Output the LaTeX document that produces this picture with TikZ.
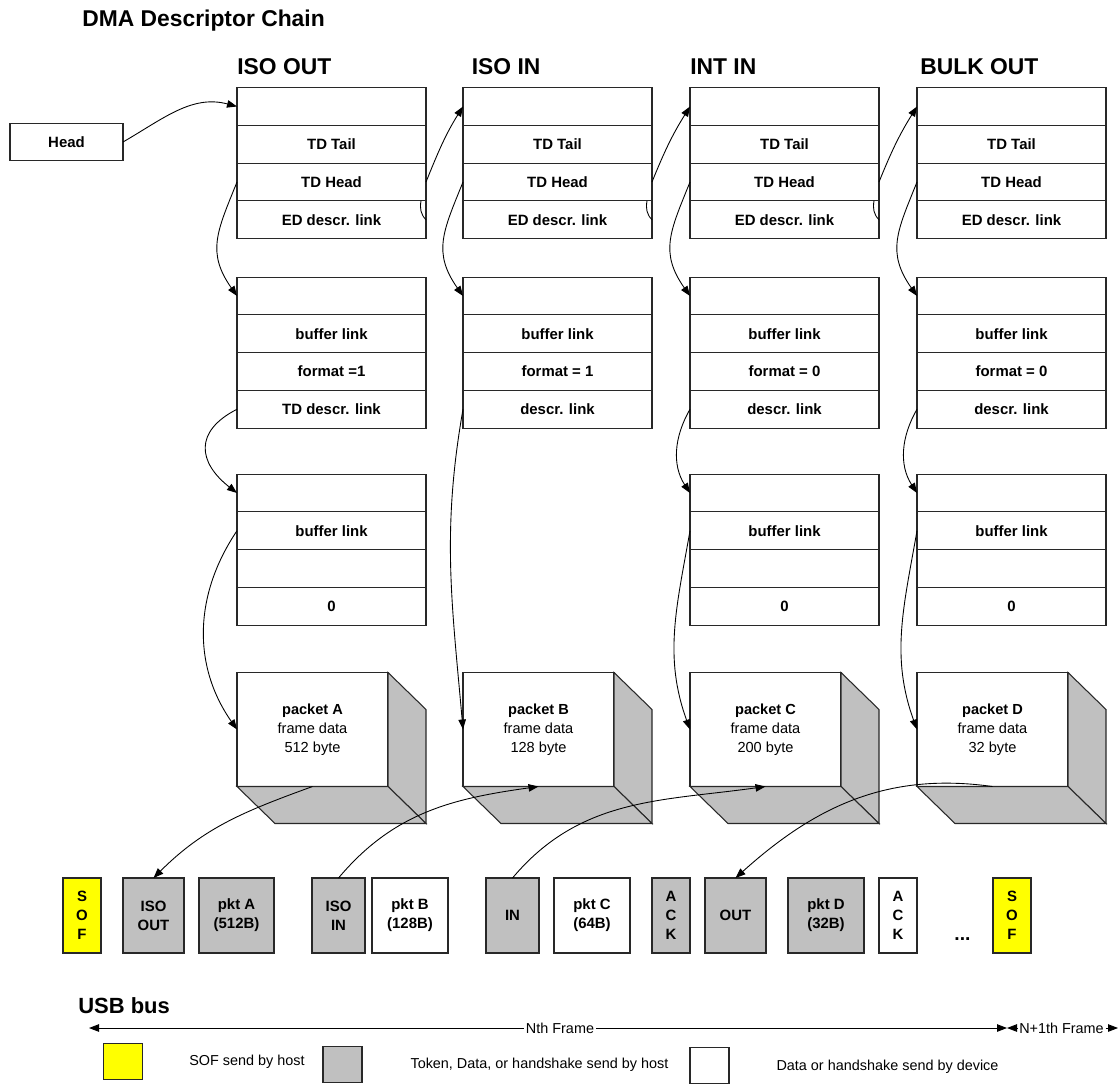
\documentclass[tikz,border=0pt]{standalone}
\usepackage{fontspec}
\setmainfont{Liberation Sans}
\usepackage{tikz}
\usetikzlibrary{arrows.meta, positioning, calc}
\definecolor{mydark}{RGB}{40,40,40}
\definecolor{hostgray}{RGB}{192,192,192}
\definecolor{sofyellow}{RGB}{255,255,0}
\tikzset{
  cell/.style={rectangle, draw=mydark, fill=white,
    minimum width=3.78cm, minimum height=0.755cm, inner sep=0pt, outer sep=0pt,
    font=\fontsize{8.5}{10}\selectfont\bfseries, line width=0.6pt},
  frontface/.style={rectangle, draw=mydark, fill=white,
    minimum width=3.02cm, minimum height=2.28cm, inner sep=0pt, outer sep=0pt,
    align=center, font=\fontsize{8.3}{10.8}\selectfont, line width=0.6pt},
  sideface/.style={draw=mydark, fill=hostgray, line width=0.6pt},
  busbox/.style={rectangle, draw=mydark, minimum height=1.5cm,
    inner sep=0pt, outer sep=0pt, align=center,
    font=\fontsize{8.5}{10.8}\selectfont\bfseries, line width=0.6pt},
  hostbox/.style={busbox, fill=hostgray},
  devbox/.style={busbox, fill=white},
  sofbox/.style={busbox, fill=sofyellow, minimum width=0.76cm},
  legbox/.style={rectangle, draw=mydark, minimum width=0.78cm,
    minimum height=0.72cm, line width=0.6pt},
  heading/.style={font=\fontsize{13}{15}\selectfont\bfseries, inner sep=0pt},
  note/.style={font=\fontsize{8.2}{10}\selectfont, inner sep=0pt},
  link/.style={-{Triangle[length=2mm,width=1.5mm]}, line width=0.5pt, color=black},
  stub/.style={line width=0.5pt, color=black}
}

\begin{document}
\begin{tikzpicture}
  \useasboundingbox (0,0) rectangle (22.4,-21.7);

  % Titles
  \node[heading, anchor=base west] (title) at (1.64,-0.52) {DMA Descriptor Chain};
  \node[heading, anchor=base west] (hisoout) at (4.74,-1.48) {ISO OUT};
  \node[heading, anchor=base west] (hisoin) at (9.43,-1.48) {ISO IN};
  \node[heading, anchor=base west] (hintin) at (13.80,-1.48) {INT IN};
  \node[heading, anchor=base west] (hbulkout) at (18.40,-1.48) {BULK OUT};

  % Head pointer
  \node[cell, minimum width=2.26cm] (head) at (1.33,-2.84) {Head};

  % Endpoint descriptors
  \foreach \c/\x in {1/6.63, 2/11.15, 3/15.69, 4/20.23} {
    \node[cell] (ed\c-1) at (\x,-2.13) {};
    \node[cell, below=0pt of ed\c-1] (ed\c-2) {TD Tail};
    \node[cell, below=0pt of ed\c-2] (ed\c-3) {TD Head};
    \node[cell, below=0pt of ed\c-3] (ed\c-4) {ED descr. link};
  }

  % Transfer descriptors
  \foreach \c/\x/\fmt/\lnk in {1/6.63/{format =1}/{TD descr. link},
      2/11.15/{format = 1}/{descr. link}, 3/15.69/{format = 0}/{descr. link},
      4/20.23/{format = 0}/{descr. link}} {
    \node[cell] (td\c-1) at (\x,-5.92) {};
    \node[cell, below=0pt of td\c-1] (td\c-2) {buffer link};
    \node[cell, below=0pt of td\c-2] (td\c-3) {\fmt};
    \node[cell, below=0pt of td\c-3] (td\c-4) {\lnk};
  }

  % Buffer descriptors
  \foreach \c/\x in {1/6.63, 3/15.69, 4/20.23} {
    \node[cell] (bd\c-1) at (\x,-9.86) {};
    \node[cell, below=0pt of bd\c-1] (bd\c-2) {buffer link};
    \node[cell, below=0pt of bd\c-2] (bd\c-3) {};
    \node[cell, below=0pt of bd\c-3] (bd\c-4) {0};
  }

  % Packet buffers
  \foreach \c/\x/\sz in {A/6.25/512, B/10.77/128, C/15.31/200, D/19.85/32} {
    \node[frontface] (pk\c) at (\x,-14.59) {\textbf{packet \c}\\frame data\\\sz{} byte};
    \draw[sideface] (pk\c.north east) -- ++(0.76,-0.74) -- ++(0,-2.28) -- (pk\c.south east) -- cycle;
    \draw[sideface] (pk\c.south west) -- ++(0.76,-0.74) -- ++(3.02,0) -- (pk\c.south east) -- cycle;
  }

  % Links
  \draw[link] (head.east) to[out=30,in=165] (ed1-1.west);
  \foreach \a/\b in {1/2, 2/3, 3/4}
    \draw[link] (ed\a-3.east) to[out=68,in=238] (ed\b-1.west);
  \foreach \c in {1,2,3}
    \draw[stub] ($(ed\c-4.north east)+(-0.1,0)$) to[out=-100,in=135] (ed\c-4.east);
  \foreach \c in {1,...,4}
    \draw[link] (ed\c-3.west) to[out=-112,in=125,looseness=1.2] (td\c-1.west);
  \draw[link] (td1-4.west) to[out=207,in=142,looseness=1.5] (bd1-1.west);
  \foreach \c in {3,4}
    \draw[link] (td\c-4.west) to[out=-120,in=123] (bd\c-1.west);
  \draw[link] (bd1-2.west) to[out=-124,in=125] (pkA.west);
  \draw[link] (td2-4.west) to[out=-100,in=95] (pkB.west);
  \draw[link] (bd3-2.west) to[out=-100,in=110] (pkC.west);
  \draw[link] (bd4-2.west) to[out=-100,in=110] (pkD.west);

  % USB bus
  \node[sofbox] (bsof1) at (1.64,-18.31) {S\\O\\F};
  \node[hostbox, minimum width=1.22cm] (bisoout) at (3.07,-18.31) {ISO\\OUT};
  \node[hostbox, minimum width=1.5cm] (bpkta) at (4.73,-18.31) {pkt A\\(512B)};
  \node[hostbox, minimum width=1.06cm] (bisoin) at (6.77,-18.31) {ISO\\IN};
  \node[devbox, minimum width=1.52cm] (bpktb) at (8.20,-18.31) {pkt B\\(128B)};
  \node[hostbox, minimum width=1.06cm] (bin) at (10.25,-18.31) {IN};
  \node[devbox, minimum width=1.52cm] (bpktc) at (11.84,-18.31) {pkt C\\(64B)};
  \node[hostbox, minimum width=0.76cm] (back1) at (13.42,-18.31) {A\\C\\K};
  \node[hostbox, minimum width=1.22cm] (bout) at (14.71,-18.31) {OUT};
  \node[hostbox, minimum width=1.52cm] (bpktd) at (16.52,-18.31) {pkt D\\(32B)};
  \node[devbox, minimum width=0.76cm] (back2) at (17.96,-18.31) {A\\C\\K};
  \node[font=\fontsize{11}{12}\selectfont\bfseries, inner sep=0pt, anchor=base] (bdots) at (19.25,-18.8) {...};
  \node[sofbox] (bsof2) at (20.24,-18.31) {S\\O\\F};

  \draw[link] (pkA.south) to[out=200,in=45] (bisoout.north);
  \draw[link] (bisoin.north) to[out=50,in=188] (pkB.south);
  \draw[link] (bin.north) to[out=50,in=188] (pkC.south);
  \draw[link] (pkD.south) to[out=172,in=42] (bout.north);

  % Frames
  \node[heading, anchor=base west, font=\fontsize{12.5}{15}\selectfont\bfseries] (usb) at (1.56,-20.26) {USB bus};
  \node[note, inner sep=1pt] (nth) at (11.2,-20.56) {Nth Frame};
  \node[note, inner sep=1pt] (nnext) at (21.23,-20.56) {N+1th Frame};
  \coordinate (fstart) at (1.78,-20.56);
  \coordinate (fsplit) at (20.14,-20.56);
  \coordinate (fend) at (22.36,-20.56);
  \draw[link] (nth.west) -- (fstart);
  \draw[link] (nth.east) -- (fsplit);
  \draw[link] (nnext.west) -- (fsplit);
  \draw[link] (nnext.east) -- (fend);

  % Legend
  \node[legbox, fill=sofyellow] (lsof) at (2.46,-21.23) {};
  \node[note] (lsoftxt) at (4.94,-21.24) {SOF send by host};
  \node[legbox, fill=hostgray] (lhost) at (6.85,-21.29) {};
  \node[note] (lhosttxt) at (10.79,-21.30) {Token, Data, or handshake send by host};
  \node[legbox, fill=white] (ldev) at (14.19,-21.31) {};
  \node[note] (ldevtxt) at (17.75,-21.34) {Data or handshake send by device};
\end{tikzpicture}
\end{document}
